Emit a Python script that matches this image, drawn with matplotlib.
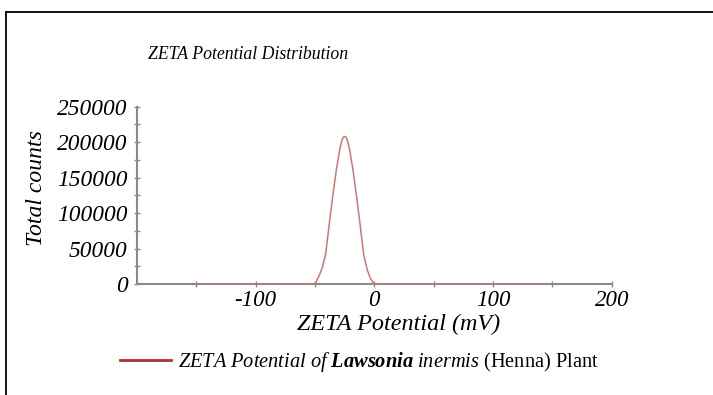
import numpy as np
import matplotlib
matplotlib.use("Agg")
import matplotlib.pyplot as plt
from matplotlib.lines import Line2D

# zeta potential distribution
zeta_mv = [-150, -50, -47, -44, -41, -38, -35, -32, -29, -27, -26, -25, -24,
           -23, -21, -18, -15, -12, -9, -6, -3, 0, 150]
counts = [0, 0, 10000, 22000, 42000, 84000, 124000, 161000, 191000, 204000,
          207000, 208000, 207000, 204000, 191000, 161000, 124000, 84000,
          42000, 20000, 7000, 0, 0]

x_ticks = [-100, 0, 100, 200]
x_minor = [-150, -50, 50, 150]
y_ticks = [0, 50000, 100000, 150000, 200000, 250000]
y_minor = [25000, 75000, 125000, 175000, 225000]

title = "ZETA Potential Distribution"
xlab = "ZETA Potential (mV)"
ylab = "Total counts"
legend_label = (r"$\mathit{ZETA\ Potential\ of\ }\mathbfit{Lawsonia}"
                r"\mathit{\ inermis}$ (Henna) Plant")

plt.rcParams["font.family"] = "Liberation Serif"
plt.rcParams["mathtext.fontset"] = "custom"
plt.rcParams["mathtext.rm"] = "Liberation Serif"
plt.rcParams["mathtext.it"] = "Liberation Serif:italic"
plt.rcParams["mathtext.bf"] = "Liberation Serif:bold"
plt.rcParams["mathtext.bfit"] = "Liberation Serif:bold:italic"

axis_grey = "#8a8a8a"
curve_col = "#d27474"

fig = plt.figure(figsize=(7.13, 3.95), dpi=100)
ax = fig.add_axes([0.192, 0.281, 0.666, 0.449])

ax.plot(zeta_mv, counts, color=curve_col, lw=1.1, zorder=3)

ax.set_xlim(-200, 200)
ax.set_ylim(0, 250000)
ax.set_xticks(x_ticks)
ax.set_xticks(x_minor, minor=True)
ax.set_yticks(y_ticks)
ax.set_yticks(y_minor, minor=True)
ax.set_xticklabels([str(v) for v in x_ticks], fontstyle="italic", fontsize=16.5)
ax.set_yticklabels([str(v) for v in y_ticks], fontstyle="italic", fontsize=16.8)

for s in ["top", "right"]:
    ax.spines[s].set_visible(False)
for s in ["left", "bottom"]:
    ax.spines[s].set_color(axis_grey)
    ax.spines[s].set_linewidth(1.5)

ax.tick_params(which="both", direction="inout", color=axis_grey, width=1.0)
ax.tick_params(which="major", length=5)
ax.tick_params(which="minor", length=4)
ax.tick_params(axis="x", pad=2)
ax.tick_params(axis="y", pad=4)

ax.set_xlabel(xlab, fontstyle="italic", fontsize=17.4)
ax.xaxis.set_label_coords(0.552, -0.168)
ax.set_ylabel(ylab, fontstyle="italic", fontsize=17)
ax.yaxis.set_label_coords(-0.19, 0.541)
fig.text(0.348, 0.861, title, ha="center", va="center",
         fontstyle="italic", fontsize=12.8)

handle = Line2D([], [], color="#b03038", lw=2)
fig.legend([handle], [legend_label], loc="center left",
           bbox_to_anchor=(0.142, 0.0835), frameon=False, fontsize=14.7,
           handlelength=2.5, handletextpad=0.35)

# page frame (top and left edges)
fig.add_artist(Line2D([0.0085, 1.0], [0.969, 0.969], color="black", lw=1.3))
fig.add_artist(Line2D([0.0085, 0.0085], [0.0, 0.969], color="black", lw=1.3))

fig.savefig("out.png", dpi=100)
